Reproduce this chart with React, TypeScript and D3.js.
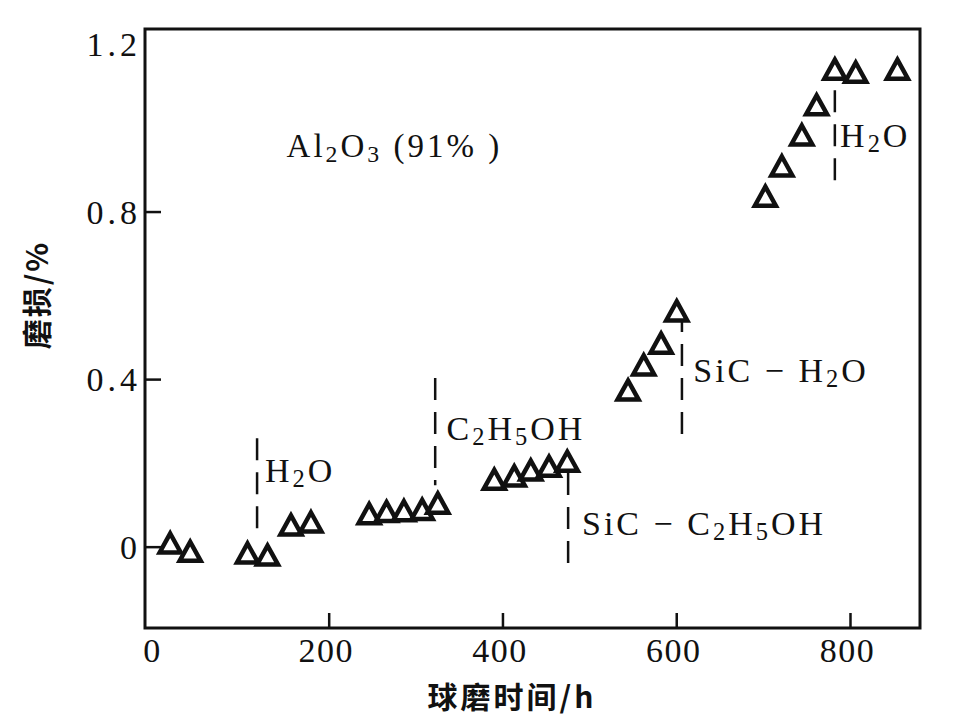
import React from "react";
import * as d3 from "d3";

// ---- data ----
const hours: number[] = [
  17, 40, 106, 129, 156, 179,
  246, 266, 286, 307, 325,
  390, 413, 432, 453, 474,
  544, 562, 582, 600,
  702, 721, 744, 761, 782, 806, 854,
];
const wear: number[] = [
  0.01, -0.01, -0.014, -0.019, 0.053, 0.06,
  0.08, 0.085, 0.087, 0.09, 0.105,
  0.162, 0.17, 0.184, 0.193, 0.205,
  0.375, 0.435, 0.487, 0.564,
  0.838, 0.91, 0.984, 1.056, 1.141, 1.134, 1.141,
];
const xTicks: number[] = [0, 200, 400, 600, 800];
const yTicks: number[] = [0, 0.4, 0.8, 1.2];
const yTickLabels: string[] = ["0", "0.4", "0.8", "1.2"];

// medium change markers: x position, dashed extent, label parts [text, isSub]
const markerX: number[] = [117, 322, 475, 606, 782];
const markerTop: number[] = [0.26, 0.404, 0.177, 0.566, 1.091];
const markerBottom: number[] = [0.017, 0.148, -0.06, 0.263, 0.86];
const labelX: number[] = [126, 335, 491, 619, 788];
const labelY: number[] = [0.155, 0.256, 0.029, 0.394, 0.955];
const labelParts: [string, boolean][][] = [
  [["H", false], ["2", true], ["O", false]],
  [["C", false], ["2", true], ["H", false], ["5", true], ["OH", false]],
  [["SiC − C", false], ["2", true], ["H", false], ["5", true], ["OH", false]],
  [["SiC − H", false], ["2", true], ["O", false]],
  [["H", false], ["2", true], ["O", false]],
];
const materialLabel: [string, boolean][] = [
  ["Al", false], ["2", true], ["O", false], ["3", true], [" (91% )", false],
];
const materialPos: [number, number] = [151, 0.931];

const xTitle = "球磨时间/h";
const yTitle = "磨损/%";

// ---- layout ----
const W = 960;
const H = 720;
const left = 145;
const right = 920;
const top = 29;
const bottom = 628;

const serif = "'Liberation Serif', 'DejaVu Serif', serif";
const cjk = "'Noto Sans CJK SC', 'Noto Sans', sans-serif";

function RichText({ parts, x, y, size }: { parts: [string, boolean][]; x: number; y: number; size: number }) {
  const spans: React.ReactNode[] = [];
  let prevSub = false;
  parts.forEach(([t, sub], i) => {
    let dy = 0;
    if (sub && !prevSub) dy = 5;
    if (!sub && prevSub) dy = -5;
    spans.push(
      <tspan key={i} dy={dy} fontSize={sub ? size * 0.72 : size}>
        {t}
      </tspan>
    );
    prevSub = sub;
  });
  return (
    <text x={x} y={y} fontFamily={serif} fontSize={size} letterSpacing={3} fill="#111" style={{ whiteSpace: "pre" }}>
      {spans}
    </text>
  );
}

export default function App() {
  const x = d3.scaleLinear().domain([-12, 880]).range([left, right]);
  const y = d3.scaleLinear().domain([-0.193, 1.237]).range([bottom, top]);

  const tw = 21;
  const th = 19;
  const tri = `M0,${-th / 2}L${tw / 2},${th / 2}L${-tw / 2},${th / 2}Z`;

  return (
    <svg width={W} height={H} style={{ position: "absolute", left: 0, top: 0, background: "#fff" }}>
      <rect x={0} y={0} width={W} height={H} fill="#fff" />
      {/* frame */}
      <rect x={left} y={top} width={right - left} height={bottom - top} fill="none" stroke="#111" strokeWidth={3} />

      {/* x ticks */}
      {xTicks.map((t) => (
        <g key={"xt" + t}>
          {t !== 0 && <line x1={x(t)} x2={x(t)} y1={bottom} y2={bottom - 15} stroke="#111" strokeWidth={2.5} />}
          <text x={x(t) - 3} y={662} textAnchor="middle" fontFamily={serif} fontSize={34} letterSpacing={1.5} fill="#111">
            {t}
          </text>
        </g>
      ))}

      {/* y ticks */}
      {yTicks.map((t, i) => (
        <g key={"yt" + t}>
          {t !== 1.2 && <line x1={left} x2={left + 16} y1={y(t)} y2={y(t)} stroke="#111" strokeWidth={2.5} />}
          <text x={141} y={y(t)} dy="0.34em" textAnchor="end" fontFamily={serif} fontSize={34} letterSpacing={4} fill="#111">
            {yTickLabels[i]}
          </text>
        </g>
      ))}

      {/* dashed medium-change markers */}
      {markerX.map((mx, i) => (
        <line
          key={"m" + i}
          x1={x(mx)}
          x2={x(mx)}
          y1={y(markerTop[i])}
          y2={y(markerBottom[i])}
          stroke="#111"
          strokeWidth={2.5}
          strokeDasharray="22 12"
        />
      ))}
      {labelParts.map((p, i) => (
        <RichText key={"l" + i} parts={p} x={x(labelX[i])} y={y(labelY[i])} size={34} />
      ))}

      <RichText parts={materialLabel} x={x(materialPos[0])} y={y(materialPos[1])} size={33} />

      {/* data markers */}
      {hours.map((h, i) => (
        <path
          key={"p" + i}
          d={tri}
          transform={`translate(${x(h)},${y(wear[i])})`}
          fill="#fff"
          stroke="#111"
          strokeWidth={4.5}
          strokeLinejoin="miter"
        />
      ))}

      {/* axis titles */}
      <text x={512} y={708} textAnchor="middle" fontFamily={cjk} fontWeight={700} fontSize={30} letterSpacing={3} fill="#111">
        {xTitle}
      </text>
      <text
        transform={`translate(48,295) rotate(-90)`}
        textAnchor="middle"
        fontFamily={cjk}
        fontWeight={700}
        fontSize={30}
        letterSpacing={2}
        fill="#111"
      >
        {yTitle}
      </text>
    </svg>
  );
}
